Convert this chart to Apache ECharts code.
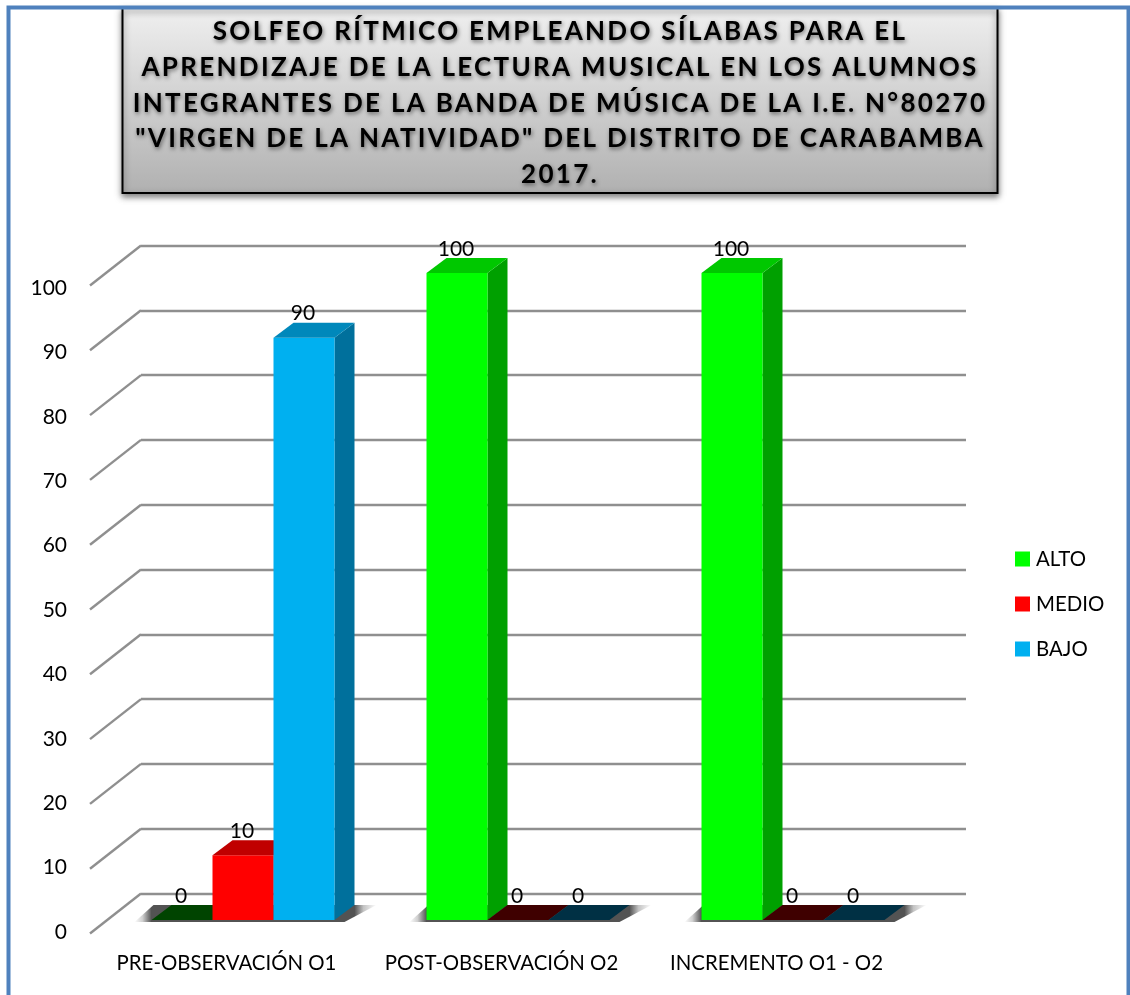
<!DOCTYPE html>
<html><head><meta charset="utf-8">
<style>html,body{margin:0;padding:0;background:#fff}#c{width:1130px;height:995px}</style>
<script src="https://cdn.jsdelivr.net/npm/echarts@6/dist/echarts.min.js"></script>
</head><body><div id="c"></div>
<script>
const categories = ['PRE-OBSERVACIÓN O1','POST-OBSERVACIÓN O2','INCREMENTO O1 - O2'];
const alto = [0,100,100];
const medio = [10,0,0];
const bajo = [90,0,0];
const yTicks = [0,10,20,30,40,50,60,70,80,90,100];
const seriesNames = ['ALTO','MEDIO','BAJO'];
const titleText = 'SOLFEO RÍTMICO EMPLEANDO SÍLABAS PARA EL\nAPRENDIZAJE DE LA LECTURA MUSICAL EN LOS ALUMNOS\nINTEGRANTES DE LA BANDA DE MÚSICA DE LA I.E. N°80270\n"VIRGEN DE LA NATIVIDAD" DEL DISTRITO DE CARABAMBA\n2017.';

const palette = [
  {front:'#00ff00',top:'#00c800',side:'#00a000',zero:'#004400'},
  {front:'#ff0000',top:'#c00000',side:'#a80000',zero:'#3f0000'},
  {front:'#00b0f0',top:'#0088bb',side:'#00709c',zero:'#003044'}
];
const FONT = 'Lato, Carlito, "Noto Sans", sans-serif';
const DX = 20, DY = 15;

function barItem(idx){
  return function(params, api){
    const cat = api.value(0), val = api.value(1);
    const c0 = api.coord([cat,0]), c1 = api.coord([cat,val]);
    const w = api.size([1,0])[0]*61/275;
    const x0 = c0[0] + (idx-1.5)*w, x1 = x0+w, yb = c0[1], yt = c1[1];
    const p = palette[idx], kids = [];
    if (val > 0) {
      kids.push({type:'polygon',shape:{points:[[x1,yt],[x1+DX,yt-DY],[x1+DX,yb-DY],[x1,yb]]},style:{fill:p.side}});
      kids.push({type:'rect',shape:{x:x0,y:yt,width:w,height:yb-yt},style:{fill:p.front}});
    }
    kids.push({type:'polygon',shape:{points:[[x0,yt],[x0+DX,yt-DY],[x1+DX,yt-DY],[x1,yt]]},style:{fill:val>0?p.top:p.zero}});
    kids.push({type:'text',style:{text:String(val),x:x0+w/2-1,y:yt-24,align:'center',verticalAlign:'middle',fill:'#000',font:'21px '+FONT}});
    return {type:'group',children:kids};
  };
}
function floorItem(params, api){
  const cat = api.value(0);
  const c0 = api.coord([cat,0]);
  const w = api.size([1,0])[0]*61/275;
  const x0 = c0[0]-1.5*w, x1 = c0[0]+1.5*w, yb = c0[1];
  const xa = x0-17, xb = x1+DX+22, span = xb-xa;
  const fill = new echarts.graphic.LinearGradient(xa,0,xb,0,[
    {offset:0,color:'rgba(40,40,40,0)'},
    {offset:(x0-9-xa)/span,color:'rgba(40,40,40,0.22)'},
    {offset:(x0-xa)/span,color:'rgba(40,40,40,0.8)'},
    {offset:(x1+DX-xa)/span,color:'rgba(40,40,40,0.8)'},
    {offset:(x1+DX+9-xa)/span,color:'rgba(40,40,40,0.28)'},
    {offset:1,color:'rgba(40,40,40,0)'}
  ],true);
  return {type:'polygon',shape:{points:[[xa,yb+2],[x0+2,yb-DY],[xb,yb-DY],[x1+10,yb+2]]},style:{fill:fill}};
}
function diagItem(params, api){
  const c = api.coord([0, api.value(0)]);
  const left = api.coord([0,0])[0] - api.size([1,0])[0]/2;
  return {type:'line',shape:{x1:left,y1:c[1],x2:left-51,y2:c[1]+40},style:{stroke:'#8f8f8f',lineWidth:2.4,fill:null}};
}

const chart = echarts.init(document.getElementById('c'),null,{renderer:'canvas'});
const hiddenX = i=>({type:'category',gridIndex:i,data:categories,show:false,boundaryGap:true});
const hiddenY = i=>({type:'value',gridIndex:i,min:0,max:100,interval:10,show:false});
chart.setOption({
  animation:false,
  backgroundColor:'#fff',
  textStyle:{fontFamily:FONT},
  grid:[
    {left:89,top:288,width:825,height:644},
    {left:105.5,top:273,width:825,height:647},
    {left:141,top:245.5,width:825,height:648}
  ],
  xAxis:[
    {type:'category',gridIndex:0,data:categories,axisLine:{show:false},axisTick:{show:false},
      axisLabel:{margin:21,fontSize:20.4,color:'#000',fontFamily:FONT,interval:0,hideOverlap:false}},
    hiddenX(1),
    {type:'category',gridIndex:2,data:categories,show:false}
  ],
  yAxis:[
    {type:'value',gridIndex:0,min:0,max:100,interval:10,splitLine:{show:false},axisLine:{show:false},axisTick:{show:false},
      axisLabel:{margin:22,fontSize:21,color:'#000',fontFamily:FONT}},
    hiddenY(1),
    {type:'value',gridIndex:2,min:0,max:100,interval:10,axisLine:{show:false},axisTick:{show:false},axisLabel:{show:false},
      splitLine:{show:true,lineStyle:{color:'#8f8f8f',width:2.4}}}
  ],
  legend:{
    orient:'vertical',left:1015,top:549,padding:0,itemWidth:15,itemHeight:15,itemGap:25,icon:'rect',
    data:seriesNames,textStyle:{fontSize:20.4,color:'#000',fontFamily:FONT,padding:[0,0,0,1]}
  },
  graphic:[
    {type:'rect',z:-1,zlevel:0,silent:true,shape:{x:122.5,y:8,width:875,height:185},
      style:{fill:new echarts.graphic.LinearGradient(0,0,0,1,[{offset:0,color:'#f0f0f0'},{offset:1,color:'#b0b0b0'}]),
        stroke:'#000',lineWidth:2,shadowBlur:6,shadowColor:'rgba(0,0,0,0.5)',shadowOffsetY:3}},
    {type:'rect',z:100,silent:true,shape:{x:8.5,y:7.5,width:1120,height:1100},
      style:{fill:null,stroke:'#4f81bd',lineWidth:4}},
    {type:'text',zlevel:5,silent:true,x:560,y:14,
      style:{text:titleText,align:'center',verticalAlign:'top',font:'bold 26px '+FONT,lineHeight:35.7,fill:'#000',
        textShadowBlur:4,textShadowColor:'rgba(0,0,0,0.5)',textShadowOffsetX:1,textShadowOffsetY:2}}
  ],
  series:[
    {type:'custom',name:'diag',coordinateSystem:'cartesian2d',xAxisIndex:2,yAxisIndex:2,z:1,silent:true,
      data:yTicks.map(v=>[v]),renderItem:diagItem,encode:{y:0},tooltip:{show:false}},
    {type:'custom',name:'floor',coordinateSystem:'cartesian2d',xAxisIndex:1,yAxisIndex:1,z:2,silent:true,
      data:categories.map((c,i)=>[i,0]),renderItem:floorItem,encode:{x:0,y:1}}
  ].concat([alto,medio,bajo].map((vals,i)=>({
    type:'custom',name:seriesNames[i],coordinateSystem:'cartesian2d',xAxisIndex:1,yAxisIndex:1,z:3+i,
    itemStyle:{color:palette[i].front},
    data:vals.map((v,k)=>[k,v]),renderItem:barItem(i),encode:{x:0,y:1}
  })))
});
// The title's wide letter-spacing lives on its own canvas layer.
const painter = chart.getZr().painter;
const layer = painter.getLayer(5);
if (layer && layer.ctx) { layer.ctx.letterSpacing = '2.3px'; painter.refresh(true); }
</script></body></html>
